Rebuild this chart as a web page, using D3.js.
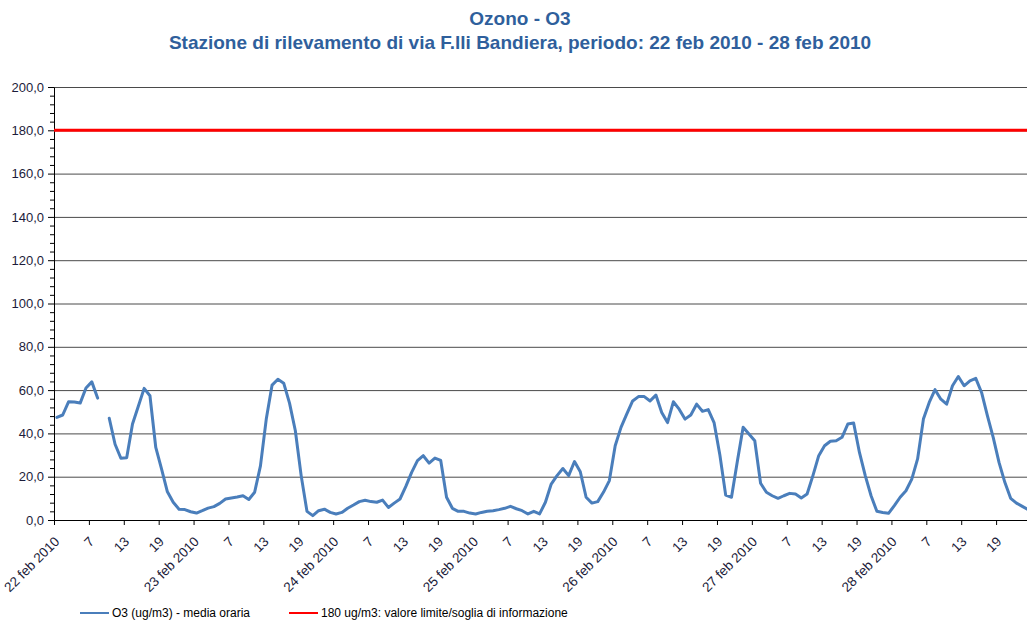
<!DOCTYPE html>
<html>
<head>
<meta charset="utf-8">
<script src="https://cdn.jsdelivr.net/npm/d3@7/dist/d3.min.js"></script>
<style>
  body { margin: 0; background: #fff; }
  svg { display: block; }
  .axis text { font-family: "Liberation Sans", Arial, sans-serif; font-size: 13px; fill: #1c1c3a; }
  .axis path, .axis line { stroke: #000; }
  .grid line { stroke: #4a4a4a; stroke-width: 1; }
  .grid path { display: none; }
  .title { font-family: "Liberation Sans Narrow", "Liberation Sans", sans-serif; font-weight: bold; fill: #2f5f9c; }
  .legend text { font-family: "Liberation Sans", Arial, sans-serif; font-size: 12px; fill: #000; }
</style>
</head>
<body>
<svg id="chart" width="1027" height="620"></svg>
<script>
// days shown on the category axis, one per 24 hourly values
const days = ["22 feb 2010", "23 feb 2010", "24 feb 2010", "25 feb 2010",
              "26 feb 2010", "27 feb 2010", "28 feb 2010"]
const hourLabels = ["1", "2", "3", "4", "5", "6", "7", "8", "9", "10", "11", "12",
                    "13", "14", "15", "16", "17", "18", "19", "20", "21", "22", "23", "24"]

// O3 (ug/m3) - hourly mean (null = missing hour)
const o3Values = [
  47.4, 48.5, 54.6, 54.5, 54.0, 61.0, 63.8, 56.3, null, 47.0, 35.0, 28.5,
  28.8, 44.3, 52.5, 60.8, 57.4, 33.5, 23.5, 13.0, 8.2, 5.0, 4.8, 3.8,
  3.2, 4.3, 5.5, 6.2, 7.7, 9.7, 10.2, 10.6, 11.2, 9.5, 12.8, 25.0,
  46.6, 62.3, 65.0, 63.2, 54.0, 41.2, 20.5, 4.0, 2.0, 4.3, 5.0, 3.5,
  2.8, 3.5, 5.4, 6.9, 8.5, 9.1, 8.5, 8.2, 9.2, 5.8, 7.8, 9.7,
  15.5, 22.0, 27.4, 29.7, 26.3, 28.6, 27.5, 10.5, 5.4, 4.0, 4.0, 3.2,
  2.8, 3.5, 4.0, 4.3, 4.8, 5.4, 6.3, 5.2, 4.3, 2.8, 4.0, 2.8,
  8.2, 16.6, 20.5, 23.8, 20.5, 27.0, 22.3, 10.5, 7.8, 8.5, 12.9, 18.2,
  34.3, 42.8, 49.0, 55.0, 57.0, 57.0, 55.0, 57.7, 49.7, 45.0, 54.6, 51.2,
  46.6, 48.5, 53.5, 50.2, 51.0, 45.0, 30.0, 11.5, 10.5, 27.0, 42.8, 39.7,
  36.6, 17.0, 12.8, 11.2, 10.0, 11.2, 12.3, 12.0, 10.2, 12.0, 20.5, 29.7,
  34.3, 36.4, 36.6, 38.2, 44.3, 44.8, 31.2, 20.5, 11.2, 4.0, 3.5, 3.1,
  6.6, 10.5, 13.5, 18.9, 28.2, 46.6, 54.3, 60.2, 55.8, 53.5, 62.0, 66.3,
  62.0, 64.3, 65.4, 58.9, 48.2, 38.2, 26.6, 17.4, 10.0, 7.8, 6.3, 4.8
]

// information threshold
const limitValue = 180

const yTicks = [0, 20, 40, 60, 80, 100, 120, 140, 160, 180, 200]

const legendLabels = ["O3 (ug/m3)  - media oraria", "180 ug/m3: valore limite/soglia di informazione"]

// category labels: first hour of each day carries the date
const categories = []
days.forEach(day => hourLabels.forEach((h, j) => categories.push(j === 0 ? day : h)))

const margin = {left: 54, top: 87}
const size = {width: 977, height: 433}

const svg = d3.select("#chart")

const x = d3.scaleBand()
  .domain(d3.range(categories.length))
  .range([margin.left, margin.left + size.width])
  .padding(0)

const xTicks = d3.scaleLinear()
  .domain([0, categories.length])
  .range([margin.left, margin.left + size.width])

const y = d3.scaleLinear()
  .domain([0, 200])
  .range([margin.top + size.height, margin.top])

const fmt = d => d3.format(".1f")(d).replace(".", ",")

// horizontal grid
svg.append("g")
  .attr("class", "grid")
  .attr("transform", `translate(${margin.left},0)`)
  .call(d3.axisLeft(y).tickValues(yTicks).tickSize(-size.width).tickFormat(""))

// minor y ticks
svg.append("g")
  .attr("class", "axis")
  .attr("transform", `translate(${margin.left},0)`)
  .call(d3.axisLeft(y).tickValues(d3.range(0, 201, 4).filter(v => v % 20 !== 0))
    .tickSize(4).tickFormat(""))
  .select(".domain").remove()

// y axis
svg.append("g")
  .attr("class", "axis")
  .attr("transform", `translate(${margin.left},0)`)
  .call(d3.axisLeft(y).tickValues(yTicks).tickSize(6).tickSizeOuter(0).tickPadding(4).tickFormat(fmt))

// x axis: tick marks on category boundaries
svg.append("g")
  .attr("class", "axis")
  .attr("transform", `translate(0,${margin.top + size.height})`)
  .call(d3.axisBottom(xTicks).tickValues(d3.range(0, categories.length + 1, 6))
    .tickSize(5).tickSizeOuter(0).tickFormat(""))

// x labels, rotated, centred on their category
const xLab = svg.append("g")
  .attr("class", "axis")
  .attr("transform", `translate(0,${margin.top + size.height})`)
  .call(d3.axisBottom(x).tickValues(d3.range(0, categories.length, 6))
    .tickSize(0).tickFormat(i => categories[i]))
xLab.select(".domain").remove()
xLab.selectAll("text")
  .style("font-size", "13.5px")
  .attr("x", 0).attr("y", 0).attr("dy", "0.35em")
  .attr("text-anchor", "end")
  .attr("transform", "translate(0,19) rotate(-45)")

// threshold line
svg.append("line")
  .attr("x1", x.range()[0]).attr("x2", x.range()[1])
  .attr("y1", y(limitValue)).attr("y2", y(limitValue))
  .attr("stroke", "#ff0000").attr("stroke-width", 3)

// O3 series
const line = d3.line()
  .defined(d => d != null)
  .x((d, i) => x(i) + x.bandwidth() / 2)
  .y(d => y(d))

svg.append("path")
  .datum(o3Values)
  .attr("d", line)
  .attr("fill", "none")
  .attr("stroke", "#4a7ebb")
  .attr("stroke-width", 3)
  .attr("stroke-linejoin", "round")
  .attr("stroke-linecap", "round")

// titles
svg.append("text").attr("class", "title")
  .attr("x", 520).attr("y", 25).attr("text-anchor", "middle")
  .style("font-size", "19px")
  .text("Ozono - O3")
svg.append("text").attr("class", "title")
  .attr("x", 520).attr("y", 49).attr("text-anchor", "middle")
  .style("font-size", "19px")
  .text("Stazione di rilevamento di via F.lli Bandiera, periodo: 22 feb 2010 - 28 feb 2010")

// legend
const legend = svg.append("g").attr("class", "legend")
const legendItems = [
  {label: legendLabels[0], color: "#4a7ebb", x: 80},
  {label: legendLabels[1], color: "#ff0000", x: 289}
]
const item = legend.selectAll("g").data(legendItems).enter().append("g")
  .attr("transform", d => `translate(${d.x},613)`)
item.append("line")
  .attr("x1", 0).attr("x2", 29).attr("y1", 0).attr("y2", 0)
  .attr("stroke", d => d.color).attr("stroke-width", 2)
item.append("text")
  .attr("x", 32).attr("dy", "0.35em")
  .text(d => d.label)
</script>
</body>
</html>
